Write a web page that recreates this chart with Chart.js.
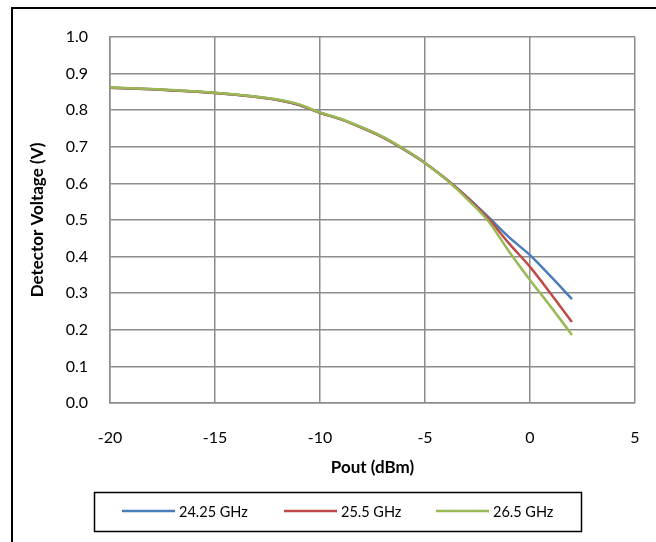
<!DOCTYPE html>
<html>
<head>
<meta charset="utf-8">
<script src="https://cdn.jsdelivr.net/npm/chart.js@4.4.1/dist/chart.umd.min.js"></script>
<style>
  body { margin: 0; background: #fff; }
  #wrap { width: 656px; height: 542px; }
</style>
</head>
<body>
<div id="wrap"><canvas id="myChart" width="656" height="542"></canvas></div>
<script>
// Pout (dBm)
var pout = [-20, -19, -18, -17, -16, -15, -14, -13, -12, -11, -10, -9, -8, -7, -6, -5, -4, -3, -2, -1, 0, 1, 2];
// detector voltage (V) per frequency
var v2425 = [0.861, 0.859, 0.857, 0.854, 0.851, 0.847, 0.842, 0.836, 0.828, 0.814, 0.793, 0.775, 0.752, 0.726, 0.693, 0.656, 0.612, 0.563, 0.509, 0.453, 0.404, 0.345, 0.284];
var v255  = [0.861, 0.859, 0.857, 0.854, 0.851, 0.847, 0.842, 0.836, 0.828, 0.815, 0.793, 0.775, 0.752, 0.726, 0.693, 0.656, 0.612, 0.562, 0.505, 0.436, 0.372, 0.298, 0.221];
var v265  = [0.862, 0.860, 0.858, 0.855, 0.852, 0.848, 0.843, 0.837, 0.829, 0.816, 0.794, 0.776, 0.753, 0.727, 0.694, 0.656, 0.611, 0.558, 0.498, 0.414, 0.336, 0.262, 0.186];
var seriesNames = ["24.25 GHz", "25.5 GHz", "26.5 GHz"];
var xTicks = [-20, -15, -10, -5, 0, 5];

var colors = ["#4a7ebb", "#be4b48", "#98b954"];
var fontFam = "Lato, 'Liberation Sans', sans-serif";

function pts(ys){
    return pout.map(function(x, i){ return {x: x, y: ys[i]}; });
}

var frame = {
    id: "frame",
    beforeDraw: function(chart){
        var c = chart.ctx;
        c.save();
        c.fillStyle = "#fff";
        c.fillRect(0, 0, chart.width, chart.height);
        c.restore();
    },
    afterDraw: function(chart){
        var c = chart.ctx;
        c.save();
        // outer border
        c.strokeStyle = "#000";
        c.lineWidth = 2;
        c.strokeRect(12, 8, 700, 600);
        // legend box
        c.lineWidth = 1.5;
        c.strokeRect(94.5, 492.5, 487, 39);
        var starts = [122, 284, 436];
        c.font = "14.5px " + fontFam;
        c.textBaseline = "middle";
        chart.data.datasets.forEach(function(ds, i){
            c.strokeStyle = ds.borderColor;
            c.lineWidth = 2.5;
            c.beginPath();
            c.moveTo(starts[i], 511);
            c.lineTo(starts[i] + 53, 511);
            c.stroke();
            c.fillStyle = "#000";
            c.fillText(ds.label, starts[i] + 57, 512);
        });
        c.restore();
    }
};

var ctx = document.getElementById("myChart").getContext("2d");
var chart = new Chart(ctx, {
    type: "line",
    data: {
        datasets: [
            {label: seriesNames[0], data: pts(v2425), borderColor: colors[0], backgroundColor: colors[0], order: 3},
            {label: seriesNames[1], data: pts(v255), borderColor: colors[1], backgroundColor: colors[1], order: 2},
            {label: seriesNames[2], data: pts(v265), borderColor: colors[2], backgroundColor: colors[2], order: 1}
        ]
    },
    options: {
        responsive: false,
        animation: false,
        devicePixelRatio: 1,
        elements: {
            point: {radius: 0},
            line: {borderWidth: 2.5, cubicInterpolationMode: "monotone", fill: false}
        },
        layout: {padding: {left: 27, right: 21, top: 37, bottom: 64}},
        plugins: {
            legend: {display: false},
            tooltip: {enabled: false}
        },
        scales: {
            x: {
                type: "linear",
                min: -20, max: 5,
                afterBuildTicks: function(s){ s.ticks = xTicks.map(function(v){ return {value: v}; }); },
                afterFit: function(s){ s.height = 75; s.paddingLeft = 0; s.paddingRight = 0; },
                grid: {color: "#8c8c8c", lineWidth: 1.5, drawTicks: false},
                border: {color: "#8c8c8c", width: 1.5},
                ticks: {padding: 25, color: "#000", font: {family: fontFam, size: 16}},
                title: {display: true, text: "Pout (dBm)", color: "#000", padding: {top: 4, bottom: 0},
                        font: {family: fontFam, size: 17, weight: "bold"}}
            },
            y: {
                min: 0, max: 1,
                ticks: {stepSize: 0.1, padding: 22, color: "#000", font: {family: fontFam, size: 16},
                        callback: function(v){ return v.toFixed(1); }},
                afterFit: function(s){ s.width = 83; s.paddingTop = 0; s.paddingBottom = 0; },
                grid: {color: "#8c8c8c", lineWidth: 1.5, drawTicks: false},
                border: {color: "#8c8c8c", width: 1.5},
                title: {display: true, text: "Detector Voltage (V)", color: "#000", padding: {top: 0, bottom: 0},
                        font: {family: fontFam, size: 17, weight: "bold"}}
            }
        }
    },
    plugins: [frame]
});
</script>
</body>
</html>
